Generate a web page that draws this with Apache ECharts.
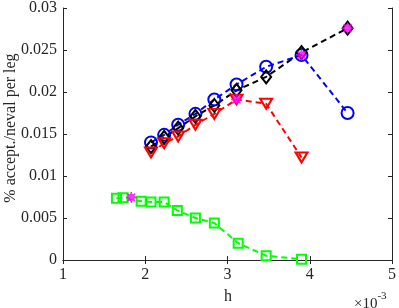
<!DOCTYPE html>
<html>
<head>
<meta charset="utf-8">
<script src="https://cdn.jsdelivr.net/npm/echarts@6/dist/echarts.min.js"></script>
<style>html,body{margin:0;padding:0;background:#fff;}#c{width:399px;height:308px;}</style>
</head>
<body>
<div id="c"></div>
<script>
// h in units of 1e-3
var hMain  = [2.07, 2.23, 2.40, 2.61, 2.84, 3.11, 3.47, 3.90, 4.46];
var hGreen = [1.65, 1.73, 1.95, 2.07, 2.23, 2.39, 2.61, 2.84, 3.13, 3.47, 3.90];
var blueVals  = [0.0140, 0.0149, 0.0161, 0.0174, 0.0191, 0.0209, 0.0230, 0.0244, 0.0175];
var blackVals = [0.0135, 0.0146, 0.0157, 0.0171, 0.0184, 0.0202, 0.0218, 0.0247, 0.0276];
var redVals   = [0.0128, 0.0139, 0.0147, 0.0161, 0.0174, 0.0191, 0.0186, 0.0122];
var greenVals = [0.00735, 0.00740, 0.0070, 0.0069, 0.0069, 0.0059, 0.0050, 0.0044, 0.0020, 0.0005, 0.0001];
var starH    = [1.83, 3.11, 3.90, 4.46];
var starVals = [0.00745, 0.0191, 0.0244, 0.0276];
var xTicks = [1, 2, 3, 4, 5];
var yTicks = [0, 0.005, 0.01, 0.015, 0.02, 0.025, 0.03];

function pairs(xs, ys){ return ys.map(function(v,i){ return [xs[i], v]; }); }

var FONT = 'Liberation Serif';
var AX = '#262626';
var triDown = 'path://M0,0L10,0L5,8.66Z';
var star = 'path://M5,0L5.96,2.68L8.54,1.46L7.32,4.04L10,5L7.32,5.96L8.54,8.54L5.96,7.32L5,10L4.04,7.32L1.46,8.54L2.68,5.96L0,5L2.68,4.04L1.46,1.46L4.04,2.68Z';

function lineSeries(data, color, symbol, size){
  return {
    type: 'line', data: data, symbol: symbol, symbolSize: size,
    lineStyle: {color: color, width: 2, type: [6, 4]},
    itemStyle: {color: 'rgba(0,0,0,0)', borderColor: color, borderWidth: 2},
    emphasis: {disabled: true}
  };
}

var axisCommon = {
  type: 'value',
  axisLine: {show: true, lineStyle: {color: AX, width: 1}},
  axisTick: {show: true, inside: true, length: 4, lineStyle: {color: AX}},
  splitLine: {show: false}
};

var chart = echarts.init(document.getElementById('c'));
chart.setOption({
  animation: false,
  backgroundColor: '#fff',
  grid: {left: 63, right: 6, top: 7, bottom: 48, containLabel: false},
  xAxis: [
    Object.assign({}, axisCommon, {min: xTicks[0], max: xTicks[xTicks.length-1], interval: 1, position: 'bottom',
      axisLabel: {fontFamily: FONT, fontSize: 16, color: AX, margin: 7}}),
    Object.assign({}, axisCommon, {min: xTicks[0], max: xTicks[xTicks.length-1], interval: 1, position: 'top',
      axisLabel: {show: false}})
  ],
  yAxis: [
    Object.assign({}, axisCommon, {min: yTicks[0], max: yTicks[yTicks.length-1], interval: 0.005, position: 'left',
      axisLabel: {fontFamily: FONT, fontSize: 16, color: AX, margin: 6,
        formatter: function(v){ return String(Math.round(v*1000)/1000); }}}),
    Object.assign({}, axisCommon, {min: yTicks[0], max: yTicks[yTicks.length-1], interval: 0.005, position: 'right',
      axisLabel: {show: false}})
  ],
  series: [
    lineSeries(pairs(hMain, blueVals), '#0000ff', 'circle', 12),
    lineSeries(pairs(hMain, blackVals), '#000000', 'diamond', [10, 13]),
    lineSeries(pairs(hMain, redVals), '#ff0000', triDown, [12, 10]),
    lineSeries(pairs(hGreen, greenVals), '#00ff00', 'rect', 9),
    {
      type: 'scatter', symbol: star, symbolSize: 11, z: 5,
      data: pairs(starH, starVals),
      itemStyle: {color: '#ff00ff', borderColor: '#ff00ff', borderWidth: 0.8},
      emphasis: {disabled: true}
    }
  ],
  graphic: [
    {type: 'text', x: 11, y: 128, rotation: Math.PI/2, style: {text: '% accept./neval per leg', font: '16px "Liberation Serif"', fill: AX, align: 'center', verticalAlign: 'middle'}},
    {type: 'text', x: 228, y: 297, style: {text: 'h', font: '16px "Liberation Serif"', fill: AX, align: 'center', verticalAlign: 'middle'}},
    {type: 'text', x: 354, y: 291, style: {
      text: '{a|×10}{b|-3}', fill: AX, verticalAlign: 'top',
      rich: {a: {fontFamily: FONT, fontSize: 15, padding: [6,0,0,0]}, b: {fontFamily: FONT, fontSize: 11, verticalAlign: 'top', padding: [0,0,8,0]}}
    }}
  ]
});
</script>
</body>
</html>
